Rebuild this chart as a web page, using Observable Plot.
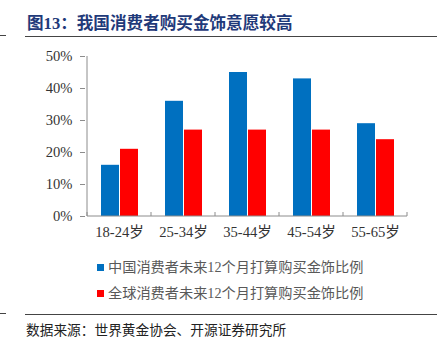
<!DOCTYPE html>
<html><head><meta charset="utf-8">
<script src="https://cdn.jsdelivr.net/npm/d3@7"></script>
<script src="https://cdn.jsdelivr.net/npm/@observablehq/plot@0.6"></script>
<style>
body{margin:0;background:#fff;}
#wrap{position:relative;width:445px;height:351px;overflow:hidden;font-family:"Liberation Serif","Noto Sans CJK SC",serif;}
#title{position:absolute;left:27px;top:10px;font-size:16.6px;font-weight:bold;color:#1f3a7a;white-space:nowrap;}
.hline{position:absolute;height:1px;background:#444;}
#chart{position:absolute;left:0;top:40px;}
.leg{position:absolute;left:97px;font-size:14.2px;color:#595959;white-space:nowrap;line-height:20px;}
.leg i{display:inline-block;width:7px;height:7px;margin-right:4px;vertical-align:1px;}
#caption{position:absolute;left:26px;top:319px;font-size:13.7px;color:#222;white-space:nowrap;}
</style></head>
<body><div id="wrap">
<div id="title">图13：我国消费者购买金饰意愿较高</div>
<div class="hline" style="left:0;top:35px;width:6px"></div>
<div class="hline" style="left:25px;top:36px;width:412px"></div>
<div id="chart"></div>
<div class="leg" style="top:257px"><i style="background:#0070c0"></i>中国消费者未来12个月打算购买金饰比例</div>
<div class="leg" style="top:283px"><i style="background:#ff0000"></i>全球消费者未来12个月打算购买金饰比例</div>
<div class="hline" style="left:0;top:313px;width:6px"></div>
<div class="hline" style="left:25px;top:314px;width:412px"></div>
<div id="caption">数据来源：世界黄金协会、开源证券研究所</div>
</div>
<script>
const categories = ["18-24岁","25-34岁","35-44岁","45-54岁","55-65岁"];
const chinaValues = [0.16,0.36,0.45,0.43,0.29];
const globalValues = [0.21,0.27,0.27,0.27,0.24];
const yTicks = [0,0.1,0.2,0.3,0.4,0.5];

const china = categories.map((c,i)=>({cat:c,v:chinaValues[i]}));
const glob = categories.map((c,i)=>({cat:c,v:globalValues[i]}));

function axesMark(index, scales, values, dims) {
  const x = scales.x, y = scales.y;
  const step = x(categories[1]) - x(categories[0]);
  const xs = categories.map(c => x(c));
  xs.push(xs[xs.length-1] + step);
  const y0 = y(0), yTop = y(0.5);
  const g = d3.create("svg:g").attr("stroke","#8c8c8c").attr("stroke-width",1);
  for (const v of xs) g.append("line").attr("x1",v).attr("x2",v).attr("y1",y0).attr("y2",y0-4);
  g.append("line").attr("x1",xs[0]).attr("x2",xs[0]).attr("y1",yTop).attr("y2",y0);
  g.append("line").attr("x1",xs[0]).attr("x2",xs[xs.length-1]).attr("y1",y0).attr("y2",y0);
  return g.node();
}

const plot = Plot.plot({
  width: 445, height: 210,
  marginTop: 16, marginBottom: 34, marginLeft: 85, marginRight: 36,
  style: {fontFamily: '"Liberation Serif","Noto Sans CJK SC",serif', fontSize: "14.6px", color: "#333", background: "#fff"},
  x: {domain: categories, padding: 0, label: null},
  y: {domain: [0, 0.5], label: null},
  marks: [
    Plot.barY(china, {x: "cat", y: "v", fill: "#0070c0", insetLeft: 14, insetRight: 32}),
    Plot.barY(glob, {x: "cat", y: "v", fill: "#ff0000", insetLeft: 33, insetRight: 13}),
    Plot.axisX({tickSize: 0, tickPadding: 10, fontSize: 14.6, fill: "#333"}),
    Plot.axisY({ticks: yTicks, tickFormat: d => Math.round(d*100) + "%", tickSize: 5, tickPadding: 8, stroke: "#8c8c8c", fill: "#333", fontSize: 14.6}),
    axesMark
  ]
});
document.getElementById("chart").appendChild(plot);
</script>
</body></html>
